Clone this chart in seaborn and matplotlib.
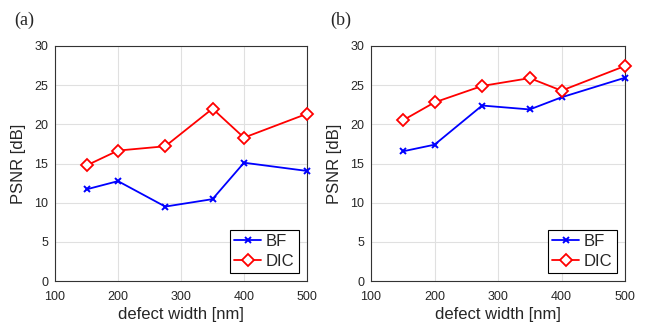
import numpy as np
import pandas as pd
import matplotlib
matplotlib.use("Agg")
import matplotlib.pyplot as plt
import seaborn as sns

# defect widths [nm]
WIDTHS = [150, 200, 275, 350, 400, 500]

# panel (a)
BF_A = [11.7, 12.75, 9.5, 10.45, 15.1, 14.05]
DIC_A = [14.75, 16.65, 17.2, 22.0, 18.3, 21.35]

# panel (b)
BF_B = [16.55, 17.4, 22.4, 21.9, 23.45, 25.95]
DIC_B = [20.5, 22.8, 24.9, 25.9, 24.3, 27.45]

PANELS = ["(a)", "(b)"]
Y_TICKS = [0, 5, 10, 15, 20, 25, 30]
X_TICKS = [100, 200, 300, 400, 500]

sns.set_style("whitegrid")
plt.rcParams['font.family'] = ['Liberation Sans', 'DejaVu Sans']

fig = plt.figure(figsize=(6.51, 3.29), dpi=100)
axes = [fig.add_axes([55/651, 1 - 281/329, 252/651, 235/329]),
        fig.add_axes([371/651, 1 - 281/329, 254/651, 235/329])]

for ax, label, bf, dic in zip(axes, PANELS, [BF_A, BF_B], [DIC_A, DIC_B]):
    sns.lineplot(x=WIDTHS, y=bf, ax=ax, color="#0000ff", marker="x",
                 markersize=5, markeredgecolor="#0000ff", markeredgewidth=1.4,
                 linewidth=1.3, label="BF", clip_on=False, zorder=3)
    sns.lineplot(x=WIDTHS, y=dic, ax=ax, color="#ff0000", marker="D",
                 markersize=6, markerfacecolor="white", markeredgecolor="#ff0000",
                 markeredgewidth=1.3, linewidth=1.3, label="DIC",
                 clip_on=False, zorder=3)
    ax.set_xlim(100, 500)
    ax.set_ylim(0, 30)
    ax.set_xticks(X_TICKS)
    ax.set_yticks(Y_TICKS)
    ax.tick_params(axis="x", labelsize=9, length=0, pad=7)
    ax.tick_params(axis="y", labelsize=9, length=0, pad=5)
    ax.grid(True, color="#e0e0e0", linewidth=0.8)
    for sp in ax.spines.values():
        sp.set_color("#333333")
        sp.set_linewidth(0.8)
    ax.set_xlabel("defect width [nm]", fontsize=12, labelpad=3)
    ax.set_ylabel("PSNR [dB]", fontsize=12, labelpad=6)
    leg = ax.legend(loc="lower right", fontsize=12, frameon=True, fancybox=False,
                    handlelength=1.6, handletextpad=0.3, borderpad=0.25,
                    labelspacing=0.25, borderaxespad=0.5)
    leg.get_frame().set_edgecolor("black")
    leg.get_frame().set_linewidth(0.8)
    leg.get_frame().set_alpha(1)
    ax.text(-0.16, 1.145, label, transform=ax.transAxes, fontsize=13,
            family=["Liberation Serif", "DejaVu Serif"], va="top", ha="left")

fig.savefig("out.png", dpi=100)
